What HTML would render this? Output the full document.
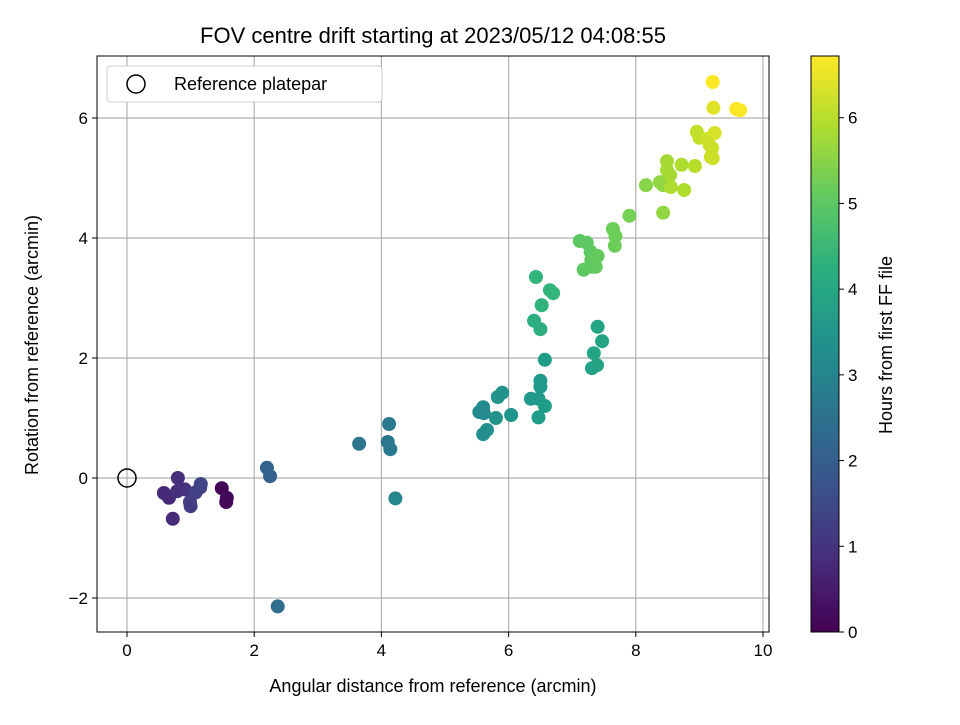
<!DOCTYPE html>
<html><head><meta charset="utf-8"><style>
body{margin:0;background:#fff}
svg text{font-family:"Liberation Sans","DejaVu Sans",sans-serif;fill:#000}
</style></head><body>
<svg id="c" width="960" height="720" xmlns="http://www.w3.org/2000/svg">
<rect width="960" height="720" fill="#fff"/>
<defs><linearGradient id="vg" x1="0" y1="1" x2="0" y2="0">
<stop offset="0" stop-color="#440154"/><stop offset="0.125" stop-color="#472d7b"/><stop offset="0.25" stop-color="#3b528b"/><stop offset="0.375" stop-color="#2c728e"/><stop offset="0.5" stop-color="#21918c"/><stop offset="0.625" stop-color="#28ae80"/><stop offset="0.75" stop-color="#5ec962"/><stop offset="0.875" stop-color="#addc30"/><stop offset="1" stop-color="#fde725"/>
</linearGradient></defs>
<text x="433" y="43" font-size="22" text-anchor="middle">FOV centre drift starting at 2023/05/12 04:08:55</text>
<g id="grid"></g><g id="pts"></g><g id="axes"></g>
<rect x="811" y="56" width="28" height="576" fill="url(#vg)" stroke="#000" stroke-width="1"/>
<g id="cb"></g>
<text x="433" y="692" font-size="18" text-anchor="middle">Angular distance from reference (arcmin)</text>
<text transform="translate(38,345) rotate(-90)" font-size="18" text-anchor="middle">Rotation from reference (arcmin)</text>
<text transform="translate(892,345) rotate(-90)" font-size="18" text-anchor="middle">Hours from first FF file</text>
<g>
<rect x="107" y="66" width="275" height="36" rx="3" fill="#fff" stroke="#ccc"/>
<circle cx="136" cy="84" r="9" fill="none" stroke="#000" stroke-width="1.5"/>
<text x="174" y="90" font-size="18">Reference platepar</text>
</g>
</svg>
<script>
const xTicks=[0,2,4,6,8,10];
const yTicks=[-2,0,2,4,6];
const cbTicks=[0,1,2,3,4,5,6];
const xs=[1.49,1.56,1.57,0.58,0.66,0.72,0.80,0.79,0.91,0.99,1.0,1.08,1.15,1.16,2.2,2.25,2.37,3.65,4.12,4.1,4.14,4.22,5.54,5.6,5.61,5.6,5.66,5.8,5.83,5.9,6.04,6.35,6.5,6.5,6.47,6.57,6.47,6.57,6.4,6.5,6.52,6.43,6.65,6.7,7.4,7.47,7.34,7.31,7.39,7.12,7.23,7.18,7.31,7.37,7.3,7.34,7.29,7.4,7.64,7.68,7.67,7.9,8.16,8.38,8.43,8.43,8.49,8.49,8.54,8.55,8.72,8.76,8.93,8.96,9.0,9.12,9.16,9.18,9.21,9.24,9.2,9.21,9.22,9.58,9.64];
const ys=[-0.17,-0.40,-0.33,-0.25,-0.33,-0.68,0.0,-0.22,-0.19,-0.40,-0.47,-0.24,-0.16,-0.1,0.17,0.03,-2.14,0.57,0.90,0.6,0.48,-0.34,1.1,1.18,1.08,0.73,0.8,1.0,1.35,1.42,1.05,1.32,1.62,1.52,1.32,1.2,1.01,1.97,2.62,2.48,2.88,3.35,3.13,3.08,2.52,2.28,2.08,1.83,1.88,3.95,3.92,3.47,3.52,3.52,3.63,3.7,3.77,3.7,4.15,4.03,3.87,4.37,4.88,4.93,4.88,4.42,5.28,5.13,5.05,4.85,5.22,4.8,5.2,5.77,5.67,5.65,5.55,5.35,5.33,5.75,5.5,6.6,6.17,6.15,6.13];
const hours=[0.05,0.1,0.15,0.8,0.8,0.8,0.9,0.9,1.0,1.2,1.2,1.3,1.3,1.4,2.1,2.1,2.4,2.6,2.7,2.7,2.7,3.1,3.2,3.2,3.2,3.3,3.3,3.4,3.4,3.4,3.5,3.6,3.6,3.6,3.6,3.7,3.7,3.7,4.2,4.2,4.3,4.4,4.4,4.4,3.9,3.9,3.9,3.9,3.9,5.0,5.0,5.0,5.0,5.1,5.0,5.1,5.0,5.1,5.2,5.2,5.2,5.3,5.5,5.6,5.6,5.6,5.8,5.8,5.8,5.9,5.9,5.9,6.0,6.1,6.1,6.2,6.2,6.2,6.2,6.3,6.2,6.7,6.4,6.7,6.7];
const L=97,R=769,T=56,B=632,HMAX=6.72;
const X=v=>127+v*63.6, Y=v=>478-v*60, CY=h=>632-h*(576/HMAX);
const NS='http://www.w3.org/2000/svg';
function mk(t,a,p){const e=document.createElementNS(NS,t);for(const k in a)e.setAttribute(k,a[k]);p.appendChild(e);return e;}
const vir=[[68,1,84],[72,40,120],[62,73,137],[49,104,142],[38,130,142],[31,158,137],[53,183,121],[110,206,88],[181,222,43],[253,231,37]];
function cmap(t){t=Math.max(0,Math.min(1,t))*9;const i=Math.min(8,Math.floor(t)),f=t-i;const c=vir[i].map((v,k)=>Math.round(v+(vir[i+1][k]-v)*f));return `rgb(${c})`;}
const g=document.getElementById('grid'),p=document.getElementById('pts'),a=document.getElementById('axes'),cb=document.getElementById('cb');
xTicks.forEach(v=>{const x=X(v);
const l=mk('line',{x1:x,x2:x,y1:T,y2:B,stroke:'#b0b0b0','stroke-width':1.2},g);

mk('line',{x1:x,x2:x,y1:B,y2:B+5,stroke:'#000'},a);
const t=mk('text',{x:x,y:B+24,'font-size':17,'text-anchor':'middle'},a);t.textContent=v;
});
yTicks.forEach(v=>{const y=Y(v);
const l=mk('line',{x1:L,x2:R,y1:y,y2:y,stroke:'#b0b0b0','stroke-width':1.2},g);

mk('line',{x1:L-5,x2:L,y1:y,y2:y,stroke:'#000'},a);
const t=mk('text',{x:L-9,y:y+6,'font-size':17,'text-anchor':'end'},a);t.textContent=v<0?'\u2212'+(-v):v;
});
xs.forEach((v,i)=>{const c=mk('circle',{cx:X(v),cy:Y(ys[i]),r:7,fill:cmap(hours[i]/HMAX)},p);
});
const ref=mk('circle',{cx:X(0),cy:Y(0),r:9,fill:'none',stroke:'#000','stroke-width':1.5},p);

const fr=mk('rect',{x:L,y:T,width:R-L,height:B-T,fill:'none',stroke:'#000','stroke-width':1},a);

cbTicks.forEach(v=>{const y=CY(v);
mk('line',{x1:839,x2:844,y1:y,y2:y,stroke:'#000'},cb);
const t=mk('text',{x:848,y:y+6,'font-size':17},cb);t.textContent=v;
});
</script>
</body></html>
